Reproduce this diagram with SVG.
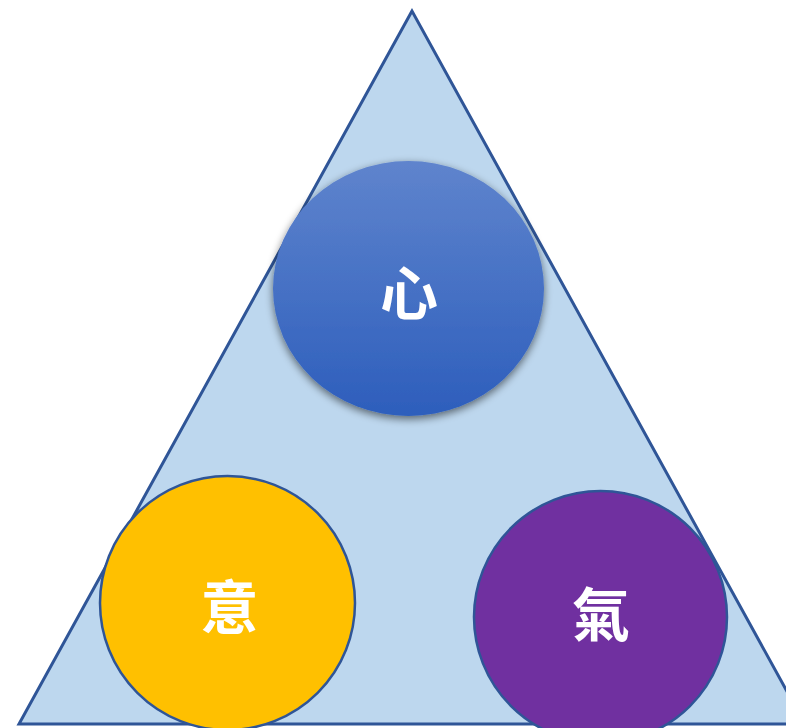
<svg xmlns="http://www.w3.org/2000/svg" width="786" height="728" viewBox="0 0 786 728">
<defs>
<linearGradient id="blueGrad" x1="0" y1="0" x2="0" y2="1">
<stop offset="0" stop-color="#5F84CD"/>
<stop offset="1" stop-color="#2D5EBC"/>
</linearGradient>
<filter id="shadow" x="-20%" y="-20%" width="140%" height="140%">
<feGaussianBlur in="SourceAlpha" stdDeviation="4"/>
<feOffset dx="0" dy="3" result="b"/>
<feComponentTransfer><feFuncA type="linear" slope="0.55"/></feComponentTransfer>
<feMerge><feMergeNode/><feMergeNode in="SourceGraphic"/></feMerge>
</filter>
</defs>
<style>
.lbl{font-family:"Noto Sans CJK TC","Noto Sans CJK SC",sans-serif;font-weight:bold;font-size:58px;fill:#FFFFFF;text-anchor:middle}
.ring{stroke:#2F5597;stroke-width:2.5}
</style>
<rect width="786" height="728" fill="#FFFFFF"/>
<g id="triangle">
<polygon points="412,11 19,724 805,724" fill="#BDD7EE" stroke="#2F5597" stroke-width="3" stroke-linejoin="miter"/>
</g>
<g id="connectors"></g>
<g id="node-xin">
<ellipse cx="408.5" cy="288.5" rx="135.5" ry="127.5" fill="url(#blueGrad)" filter="url(#shadow)"/>
<text class="lbl" x="409" y="315">心</text>
</g>
<g id="node-yi">
<ellipse class="ring" cx="227.5" cy="603" rx="127.5" ry="127" fill="#FFC000"/>
<text class="lbl" x="229.5" y="629">意</text>
</g>
<g id="node-qi">
<ellipse class="ring" cx="600.5" cy="617" rx="126.5" ry="126" fill="#7030A0"/>
<text class="lbl" x="601" y="636">氣</text>
</g>
</svg>
